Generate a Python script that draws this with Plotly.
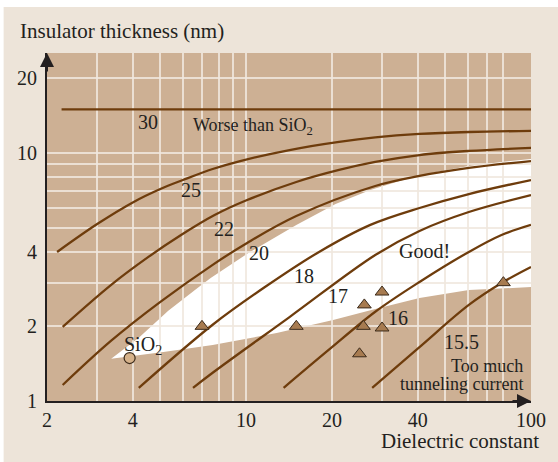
import numpy as np
import plotly.graph_objects as go

# ---- data (x: dielectric constant, y: insulator thickness nm)
k30 = [2.25, 100]
t30 = [15.0, 15.0]
k25 = [2.17, 3.0, 4.03, 5.0, 6.0, 7.63, 9.53, 14.2, 21.2, 28.4, 40.6, 60.5, 100]
t25 = [3.99, 5.17, 6.35, 7.16, 7.78, 8.62, 9.28, 10.28, 11.08, 11.55, 11.93, 12.15, 12.27]
k22 = [2.27, 3.36, 4.54, 5.91, 7.75, 10.08, 15.0, 21.2, 28.4, 40.6, 60.5, 100]
t22 = [1.99, 2.94, 3.81, 4.67, 5.62, 6.46, 7.64, 8.54, 9.20, 9.81, 10.19, 10.48]
k20 = [2.27, 3.36, 5.0, 7.63, 10.08, 15.0, 28.4, 40.6, 60.5, 100]
t20 = [1.16, 1.75, 2.51, 3.54, 4.34, 5.57, 7.36, 8.08, 8.70, 9.28]
k18 = [4.20, 7.63, 11.54, 18.03, 27.3, 40.6, 60.5, 100]
t18 = [1.13, 2.03, 2.86, 3.99, 5.13, 6.00, 6.83, 7.78]
k17 = [6.51, 7.63, 14.2, 28.4, 40.6, 60.5, 100]
t17 = [1.13, 1.30, 2.18, 3.88, 4.85, 5.78, 6.77]
k16 = [13.54, 19.53, 28.4, 40.6, 60.5, 78.8, 100]
t16 = [1.13, 1.61, 2.29, 3.02, 3.99, 4.67, 5.13]
k155 = [27.7, 40.6, 60.5, 78.8, 100]
t155 = [1.13, 1.65, 2.44, 2.99, 3.47]

# "Good!" window boundaries
good_low_k = [3.36, 5.20, 7.63, 12.8, 20.2, 28.4, 40.6, 60.5, 100]
good_low_t = [1.48, 1.58, 1.68, 1.88, 2.12, 2.35, 2.60, 2.80, 2.88]
good_up_k = [3.36, 4.20, 5.33, 6.77, 7.51, 10.08, 15.0, 20.6, 27.3, 35.5, 46.5, 60.5, 78.8, 100]
good_up_t = [1.48, 1.80, 2.31, 2.86, 3.13, 3.92, 5.13, 6.23, 7.09, 7.78, 8.38, 8.86, 9.20, 9.46]

# materials (triangles) and SiO2
tri_k = [7.0, 15.0, 26.0, 25.8, 25.0, 30.0, 30.0, 80.0]
tri_t = [2.0, 2.0, 2.44, 2.0, 1.55, 2.75, 1.97, 3.0]
sio2_k = [3.9]
sio2_t = [1.49]

x_ticks = [2, 4, 10, 20, 40, 100]
x_minor = [3, 5, 6, 7, 8, 9, 30, 50, 60, 70, 80]
y_ticks = [1, 2, 4, 10, 20]
y_minor = [3, 5, 6, 7, 8, 9]
x_range = [2, 100]
y_range = [1, 25.3]

curves = [(k30, t30), (k25, t25), (k22, t22), (k20, t20), (k18, t18),
          (k17, t17), (k16, t16), (k155, t155)]

# ---- styles
FONT = "Liberation Serif"
TXT = "#231f20"
BROWN_LINE = "#6e3c0c"
PLOT_BG = "#cdb094"
PAPER_BG = "#ede4d9"
GRID = "rgba(240,232,222,0.85)"

fig = go.Figure()
for kk, tt in curves:
    fig.add_trace(go.Scatter(x=kk, y=tt, mode="lines",
                             line=dict(color=BROWN_LINE, width=2.3, shape="spline", smoothing=1.0),
                             hoverinfo="skip", showlegend=False))

fig.add_trace(go.Scatter(x=tri_k, y=tri_t, mode="markers",
                         marker=dict(symbol="triangle-up", size=12, color="#a77b50",
                                     line=dict(color="#3b2a1a", width=1)),
                         showlegend=False, cliponaxis=False))
fig.add_trace(go.Scatter(x=sio2_k, y=sio2_t, mode="markers",
                         marker=dict(symbol="circle", size=11, color="#d6b28a",
                                     line=dict(color="#3b2a1a", width=1.2)),
                         showlegend=False, cliponaxis=False))

# white "good" region drawn beneath grid lines
pts = list(zip(good_low_k, good_low_t)) + list(zip(good_up_k[::-1], good_up_t[::-1]))
path = "M " + " L ".join(f"{a},{b}" for a, b in pts) + " Z"
shapes = [dict(type="path", path=path, xref="x", yref="y", fillcolor="white",
               line=dict(width=0), layer="below")]
# thin white margins of the reference image
shapes.append(dict(type="rect", xref="paper", yref="paper", x0=-0.2, x1=1.2, y0=1.1322, y1=1.2,
                   fillcolor="white", line=dict(width=0), layer="below"))
shapes.append(dict(type="rect", xref="paper", yref="paper", x0=-0.2, x1=-0.0896, y0=-0.3, y1=1.3,
                   fillcolor="white", line=dict(width=0), layer="below"))

def ann(text, x, y, size=20, xanchor="center"):
    return dict(text=text, x=x, y=y, xref="paper", yref="paper", showarrow=False,
                xanchor=xanchor, yanchor="middle", font=dict(family=FONT, size=size, color=TXT))

annotations = [
    ann("30", 0.2077, 0.8017),
    ann("Worse than SiO<sub>2</sub>", 0.2974, 0.7874, 18, "left"),
    ann("25", 0.2974, 0.6063),
    ann("22", 0.3666, 0.4943),
    ann("20", 0.4379, 0.4253),
    ann("18", 0.5316, 0.3592),
    ann("17", 0.6008, 0.3017),
    ann("Good!", 0.7800, 0.4310),
    ann("16", 0.7251, 0.2385),
    ann("15.5", 0.8574, 0.1695),
    ann("Too much", 0.9878, 0.1005, 18, "right"),
    ann("tunneling current", 0.9878, 0.0500, 18, "right"),
    ann("SiO<sub>2</sub>", 0.1976, 0.1609, 20),
    ann("Insulator thickness (nm)", -0.0591, 1.0632, 21, "left"),
    ann("Dielectric constant", 1.0204, -0.1160, 21, "right"),
    # axis arrowheads
    dict(x=0, y=1, xref="paper", yref="paper", ax=0, ay=20, text="", showarrow=True,
         arrowhead=2, arrowsize=1.4, arrowwidth=2, arrowcolor=TXT, standoff=0),
    dict(x=1, y=0, xref="paper", yref="paper", ax=-20, ay=0, text="", showarrow=True,
         arrowhead=2, arrowsize=1.4, arrowwidth=2, arrowcolor=TXT, standoff=0),
]

axis_common = dict(type="log", showline=True, linecolor=TXT, linewidth=2, ticks="",
                   showgrid=True, gridcolor=GRID, gridwidth=1.5, zeroline=False,
                   tickfont=dict(family=FONT, size=20, color=TXT))

fig.update_layout(
    width=558, height=462,
    margin=dict(l=47, r=20, t=53, b=61),
    paper_bgcolor=PAPER_BG, plot_bgcolor=PLOT_BG,
    xaxis=dict(**axis_common, range=list(np.log10(x_range)), tickvals=x_ticks,
               ticktext=[str(v) for v in x_ticks],
               minor=dict(tickvals=x_minor, showgrid=True, gridcolor=GRID, gridwidth=1.5, ticks="")),
    yaxis=dict(**axis_common, range=list(np.log10(y_range)), tickvals=y_ticks,
               ticktext=[str(v) for v in y_ticks],
               minor=dict(tickvals=y_minor, showgrid=True, gridcolor=GRID, gridwidth=1.5, ticks=""),
               ticklabelstandoff=4),
    shapes=shapes, annotations=annotations, showlegend=False,
)

fig.write_html("out.html")
